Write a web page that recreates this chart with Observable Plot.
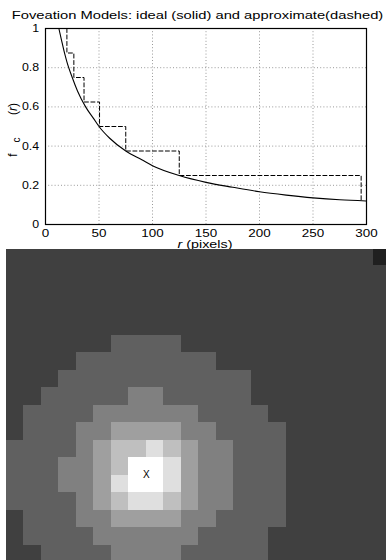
<!DOCTYPE html>
<html>
<head>
<meta charset="utf-8">
<script src="https://cdn.jsdelivr.net/npm/d3@7"></script>
<script src="https://cdn.jsdelivr.net/npm/@observablehq/plot@0.6"></script>
<style>
  html, body { margin: 0; padding: 0; background: #fff; }
  #wrap { position: relative; width: 386px; height: 560px; overflow: hidden; font-family: "Liberation Sans", Arial, sans-serif; }
  #chart { position: absolute; left: 0; top: 0; }
  #map { position: absolute; left: 0; top: 249px; }
</style>
</head>
<body>
<div id="wrap"><div id="chart"></div><div id="map"></div></div>
<script>
// ---------- data ----------
const titleText = "Foveation Models: ideal (solid) and approximate(dashed)";
const xLabelParts = ["r", " (pixels)"];
const yLabelParts = ["f", "c", "(", "r", ")"];
const xTicks = [0, 50, 100, 150, 200, 250, 300];
const yTicks = [0, 0.2, 0.4, 0.6, 0.8, 1];
const yTickLabels = ["0", "0.2", "0.4", "0.6", "0.8", "1"];

// ideal foveation model (solid curve)
const idealR = [12.5, 15, 18, 20, 25, 30, 37.5, 45, 50, 60, 75, 90, 100, 125, 150, 175, 200, 225, 250, 275, 300];
const idealF = [1.0, 0.94, 0.87, 0.83, 0.75, 0.68, 0.6, 0.54, 0.5, 0.44, 0.375, 0.33, 0.3, 0.25, 0.215, 0.19, 0.167, 0.15, 0.136, 0.126, 0.12];

// approximate model (dashed staircase)
const approxR = [20, 26.5, 36, 50.5, 75, 125, 295, 295];
const approxF = [1, 0.875, 0.75, 0.625, 0.5, 0.375, 0.25, 0.125];

// foveated block map: each digit = level in eighths (1 = 0.125 ... 8 = 1.0)
const mapRows = [
  "2222222222222222222221",
  "2222222222222222222222",
  "2222222222222222222222",
  "2222222222222222222222",
  "2222222222222222222222",
  "2222223333222222222222",
  "2222333333332222222222",
  "2223333333333322222222",
  "2233333443333322222222",
  "2333344444433332222222",
  "2333445555443333222222",
  "3333456676544333222222",
  "3334456887544333222222",
  "3334457887544333222222",
  "3333456776544333222222",
  "2333445555443333222222",
  "2333344444433332222222",
  "2233334444333332222222"
];
const foveaCol = 8, foveaRow = 13, foveaMark = "X";

// ---------- chart ----------
const ideal = idealR.map((r, i) => ({r, f: idealF[i]}));
const approx = approxR.map((r, i) => ({r, f: approxF[i]}));
const font = "'Liberation Sans', Arial, sans-serif";

const svg1 = Plot.plot({
  width: 386, height: 250,
  marginLeft: 45, marginRight: 20, marginTop: 28, marginBottom: 26,
  style: {fontFamily: font, fontSize: "11px", color: "black", background: "white"},
  x: {domain: [0, 300]},
  y: {domain: [0, 1]},
  marks: [
    Plot.gridX(xTicks.slice(1, -1), {stroke: "#999", strokeOpacity: 1, strokeDasharray: "1,2.2"}),
    Plot.gridY(yTicks.slice(1, -1), {stroke: "#999", strokeOpacity: 1, strokeDasharray: "1,2.2"}),
    Plot.axisX(xTicks, {tickSize: 0, tickPadding: 4.5, label: null, fontSize: 11}),
    Plot.axisY(yTicks, {tickSize: 0, tickPadding: 6.5, label: null, fontSize: 11,
      tickFormat: d => yTickLabels[yTicks.indexOf(d)]}),
    Plot.line(ideal, {x: "r", y: "f", curve: "monotone-x", stroke: "black", strokeWidth: 1.1, clip: true}),
    Plot.line(approx, {x: "r", y: "f", curve: "step-before", stroke: "black", strokeWidth: 1, strokeDasharray: "4,2.5", clip: true}),
    Plot.frame({stroke: "black", strokeWidth: 1.2})
  ]
});
document.getElementById("chart").append(svg1);

const s1 = d3.select(svg1);
const title = s1.append("text").attr("x", 197.5).attr("y", 19.4)
  .attr("text-anchor", "middle").attr("font-size", 11.5).attr("fill", "black").text(titleText);
const xl = s1.append("text").attr("x", 205).attr("y", 247.5)
  .attr("text-anchor", "middle").attr("font-size", 11).attr("fill", "black");
xl.append("tspan").attr("font-style", "italic").text(xLabelParts[0]);
xl.append("tspan").text(xLabelParts[1]);
const yl = s1.append("text").attr("transform", "translate(16.5,155) rotate(-90)")
  .attr("font-size", 12).attr("fill", "black");
yl.append("tspan").attr("x", 0).text(yLabelParts[0]);
yl.append("tspan").attr("x", 15).attr("dy", 3).attr("font-size", 10).text(yLabelParts[1]);
yl.append("tspan").attr("x", 46).attr("dy", -3).text(yLabelParts[2]);
yl.append("tspan").attr("font-style", "italic").text(yLabelParts[3]);
yl.append("tspan").text(yLabelParts[4]);

function stretch(node, k) {
  const w = node.getComputedTextLength();
  node.setAttribute("textLength", (w * k).toFixed(2));
  node.setAttribute("lengthAdjust", "spacingAndGlyphs");
}
stretch(title.node(), 1.28);
stretch(xl.node(), 1.3);
svg1.querySelectorAll('g[aria-label="x-axis tick label"] text').forEach(t => stretch(t, 1.22));
svg1.querySelectorAll('g[aria-label="y-axis tick label"] text').forEach(t => stretch(t, 1.12));

// ---------- foveated image ----------
const cells = mapRows.flatMap((row, r) => Array.from(row, (ch, c) => ({c, r, v: +ch / 8})));
const cellPx = 17.47;
const mapH = 311;
const y0 = (249 - 247.6) / cellPx;
const svg2 = Plot.plot({
  width: 386, height: mapH,
  marginLeft: 6, marginRight: 0, marginTop: 0, marginBottom: 0,
  style: {fontFamily: font, background: "white"},
  x: {domain: [0, 380 / cellPx], axis: null},
  y: {domain: [y0, y0 + mapH / cellPx], axis: null, reverse: true},
  color: {type: "linear", domain: [0, 1], range: ["#000000", "#ffffff"]},
  marks: [
    Plot.rect(cells, {x1: "c", x2: d => d.c + 1, y1: "r", y2: d => d.r + 1, fill: "v", clip: true, shapeRendering: "crispEdges"}),
    Plot.text([{c: foveaCol, r: foveaRow}], {x: "c", y: "r", text: () => foveaMark, fontSize: 10, fill: "black"})
  ]
});
document.getElementById("map").append(svg2);
</script>
</body>
</html>
